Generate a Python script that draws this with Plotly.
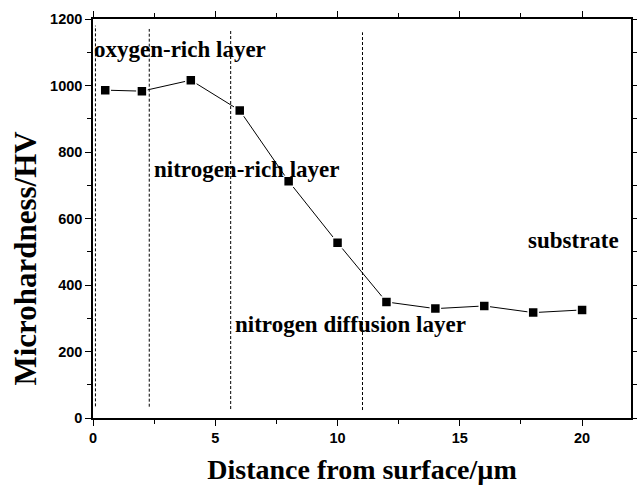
import plotly.graph_objects as go

# Data
distance_um = [0.5, 2, 4, 6, 8, 10, 12, 14, 16, 18, 20]
hardness_hv = [986, 983, 1016, 925, 712, 527, 349, 329, 337, 317, 325]

boundary_x = [0.1, 2.3, 5.63, 11.02]
boundary_top = [1180, 1170, 1165, 1160]
boundary_bottom = [35, 34, 27, 24]

label_text = ["oxygen-rich layer", "nitrogen-rich layer", "nitrogen diffusion layer", "substrate"]
label_x = [0.0, 2.45, 5.75, 21.55]
label_y = [1107, 746, 280, 535]
label_anchor = ["left", "left", "left", "right"]

x_ticks = [0, 5, 10, 15, 20]
y_ticks = [0, 200, 400, 600, 800, 1000, 1200]

fig = go.Figure()

for bx, bt, bb in zip(boundary_x, boundary_top, boundary_bottom):
    fig.add_trace(go.Scatter(
        x=[bx, bx], y=[bb, bt], mode="lines",
        line=dict(color="black", width=1, dash="3px,2px"),
        showlegend=False, hoverinfo="skip"))

fig.add_trace(go.Scatter(
    x=distance_um, y=hardness_hv, mode="lines+markers",
    line=dict(color="black", width=1),
    marker=dict(symbol="square", size=10, color="black",
                line=dict(color="white", width=1.5)),
    showlegend=False))

for t, x, y, a in zip(label_text, label_x, label_y, label_anchor):
    fig.add_annotation(x=x, y=y, text="<b>" + t + "</b>", showarrow=False, xanchor=a, yanchor="middle",
                       borderpad=0,
                       font=dict(family="Liberation Serif", size=23, color="black"))

# y-axis title (placed as rotated annotation to match its offset position)
fig.add_annotation(xref="paper", yref="paper", x=-0.126, y=0.4,
                   text="<b>Microhardness/HV</b>", textangle=-90, showarrow=False,
                   xanchor="center", yanchor="middle",
                   font=dict(family="Liberation Serif", size=31, color="black"))

axis_common = dict(
    showline=True, linecolor="black", linewidth=1.5, mirror="ticks",
    ticks="outside", ticklen=6, tickwidth=1.2, tickcolor="black",
    showgrid=False, zeroline=False, automargin=False,
    tickfont=dict(family="Liberation Sans", size=14.5, color="black"),
)

fig.update_xaxes(
    range=[0, 22], tickvals=x_ticks, ticktext=["<b>%d</b>" % v for v in x_ticks],
    minor=dict(dtick=2.5, ticks="outside", ticklen=4, tickcolor="black", tickwidth=1),
    title=dict(text="<b>Distance from surface/µm</b>", standoff=14,
               font=dict(family="Liberation Serif", size=28, color="black")),
    **axis_common)
fig.update_yaxes(
    range=[0, 1200], tickvals=y_ticks, ticktext=["<b>%d</b>" % v for v in y_ticks],
    minor=dict(dtick=100, ticks="outside", ticklen=4, tickcolor="black", tickwidth=1),
    **axis_common)

fig.update_layout(
    template="none",
    width=637, height=486,
    margin=dict(l=93, r=6, t=19, b=68),
    plot_bgcolor="white", paper_bgcolor="white",
)

fig.write_html("out.html")
